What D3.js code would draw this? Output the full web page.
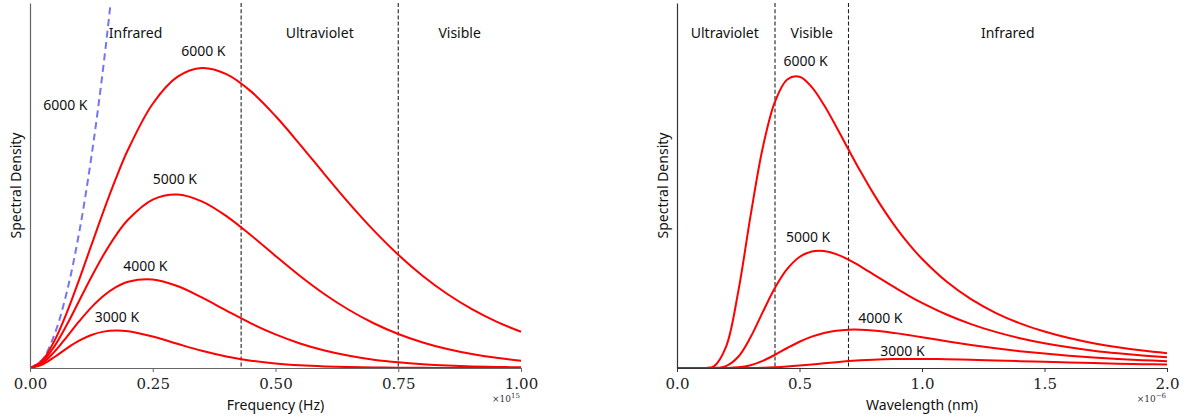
<!DOCTYPE html>
<html>
<head>
<meta charset="utf-8">
<script src="https://cdn.jsdelivr.net/npm/d3@7"></script>
<style>
  html, body { margin: 0; padding: 0; background: #fff; }
  svg { display: block; }
  .sans { font-family: "Noto Sans", "DejaVu Sans", sans-serif; }
  .serif { font-family: "DejaVu Serif", "Liberation Serif", serif; }
</style>
</head>
<body>
<svg id="chart" width="1185" height="418"></svg>
<script>
// ---------- Left panel: spectral density vs frequency (x 1e15 Hz) ----------
const freq = [0, 0.025, 0.05, 0.075, 0.1, 0.125, 0.15, 0.175, 0.2, 0.25, 0.3, 0.35, 0.4, 0.45, 0.5,
              0.55, 0.6, 0.65, 0.7, 0.75, 0.8, 0.85, 0.9, 0.95, 1.0];
const freq6000 = [0, 0.0254, 0.0916, 0.1848, 0.2939, 0.4094, 0.5240, 0.6319, 0.7290, 0.8809, 0.9703, 1.0000,
                  0.9796, 0.9221, 0.8401, 0.7449, 0.6456, 0.5487, 0.4586, 0.3776, 0.3069, 0.2467, 0.1962, 0.1546, 0.1209];
const freq5000 = [0, 0.0207, 0.0731, 0.1441, 0.2235, 0.3032, 0.3775, 0.4422, 0.4950, 0.5615, 0.5784, 0.5557,
                  0.5064, 0.4424, 0.3736, 0.3067, 0.2459, 0.1933, 0.1492, 0.1135, 0.0852, 0.0632, 0.0464, 0.0338, 0.0244];
const freq4000 = [0, 0.0161, 0.0548, 0.1041, 0.1553, 0.2021, 0.2407, 0.2694, 0.2875, 0.2949, 0.2732, 0.2351,
                  0.1913, 0.1489, 0.1119, 0.0816, 0.0581, 0.0405, 0.0278, 0.0188, 0.0125, 0.0082, 0.0054, 0.0035, 0.0022];
const freq3000 = [0, 0.0114, 0.0367, 0.0655, 0.0911, 0.1101, 0.1213, 0.1250, 0.1225, 0.1050, 0.0807, 0.0573,
                  0.0384, 0.0245, 0.0151, 0.0090, 0.0053, 0.0030, 0.0017, 0.0009, 0.0005, 0.0003, 0.0001, 0.0001, 0.0000];
// Rayleigh-Jeans 6000 K (dashed)
const rjFreq = [0, 0.025, 0.05, 0.075, 0.1, 0.125, 0.15, 0.175];
const rj6000 = [0, 0.0281, 0.1126, 0.2533, 0.4503, 0.7036, 1.0132, 1.3790];

const freqTicks = [0, 0.25, 0.5, 0.75, 1.0];
const freqBands = [0.43, 0.75];
const freqBandLabels = [["Infrared", 0.215], ["Ultraviolet", 0.59], ["Visible", 0.875]];
const freqCurveLabels = [["6000 K", 0.353, 1.04], ["5000 K", 0.295, 0.615], ["4000 K", 0.235, 0.322], ["3000 K", 0.177, 0.152]];

// ---------- Right panel: spectral density vs wavelength (x 1e-6 m) ----------
const wave = [0, 0.05, 0.1, 0.15, 0.2, 0.25, 0.3, 0.35, 0.4, 0.45, 0.5, 0.55, 0.6, 0.65, 0.7, 0.75, 0.8,
              0.85, 0.9, 0.95, 1.0, 1.1, 1.2, 1.3, 1.4, 1.5, 1.6, 1.7, 1.8, 1.9, 2.0];
const wave6000 = [0, 0, 0.0000, 0.0056, 0.0725, 0.2615, 0.5200, 0.7542, 0.9122, 0.9878, 0.9973, 0.9619, 0.9005,
                  0.8263, 0.7482, 0.6717, 0.5997, 0.5337, 0.4741, 0.4210, 0.3740, 0.2960, 0.2357, 0.1891, 0.1530,
                  0.1248, 0.1026, 0.0850, 0.0710, 0.0596, 0.0505];
const wave5000 = [0, 0, 0, 0.0002, 0.0066, 0.0384, 0.1051, 0.1914, 0.2746, 0.3392, 0.3802, 0.3992, 0.4008,
                  0.3899, 0.3709, 0.3474, 0.3216, 0.2955, 0.2700, 0.2456, 0.2230, 0.1832, 0.1503, 0.1236, 0.1021,
                  0.0848, 0.0708, 0.0594, 0.0502, 0.0426, 0.0364];
const wave4000 = [0, 0, 0, 0, 0.0002, 0.0022, 0.0096, 0.0245, 0.0454, 0.0685, 0.0900, 0.1075, 0.1201,
                  0.1279, 0.1313, 0.1313, 0.1287, 0.1243, 0.1186, 0.1122, 0.1054, 0.0918, 0.0790, 0.0676, 0.0577,
                  0.0493, 0.0421, 0.0361, 0.0310, 0.0268, 0.0232];
const wave3000 = [0, 0, 0, 0, 0, 0, 0.0002, 0.0008, 0.0023, 0.0048, 0.0082, 0.0121, 0.0163,
                  0.0201, 0.0236, 0.0264, 0.0285, 0.0300, 0.0309, 0.0312, 0.0312, 0.0301, 0.0281, 0.0258, 0.0234,
                  0.0210, 0.0187, 0.0167, 0.0148, 0.0132, 0.0117];

const waveTicks = [0, 0.5, 1.0, 1.5, 2.0];
const waveBands = [0.4, 0.7];
const waveBandLabels = [["Ultraviolet", 0.195], ["Visible", 0.55], ["Infrared", 1.35]];
const waveCurveLabels = [["6000 K", 0.525, 1.035], ["5000 K", 0.535, 0.43], ["4000 K", 0.83, 0.155], ["3000 K", 0.92, 0.042]];

// ---------- drawing ----------
const svg = d3.select("#chart");
const RED = "#ff0000";

function panel(opts) {
  const g = svg.append("g");
  const x = d3.scaleLinear().domain(opts.xDomain).range([opts.x0, opts.x1]);
  const y = d3.scaleLinear().domain(opts.yDomain).range([opts.yBottom, opts.yTop]);

  const clipId = "clip" + opts.id;
  svg.append("clipPath").attr("id", clipId).append("rect")
    .attr("x", opts.x0).attr("y", opts.yTop).attr("width", opts.x1 - opts.x0 + 2).attr("height", opts.yBottom - opts.yTop);

  // band separators
  g.selectAll(".band").data(opts.bands).enter().append("line")
    .attr("x1", d => x(d)).attr("x2", d => x(d))
    .attr("y1", opts.yTop).attr("y2", opts.yBottom)
    .attr("stroke", "#222").attr("stroke-width", 1.1).attr("stroke-dasharray", "4,2.2");

  // band labels
  g.selectAll(".bandLabel").data(opts.bandLabels).enter().append("text")
    .attr("class", "sans")
    .attr("x", d => x(d[1])).attr("y", 38)
    .attr("text-anchor", "middle").attr("font-size", 14).attr("fill", "#111")
    .text(d => d[0]);

  const line = d3.line().x(d => x(d[0])).y(d => y(d[1])).curve(d3.curveCatmullRom.alpha(0.5));
  const plot = g.append("g").attr("clip-path", `url(#${clipId})`);

  if (opts.dashed) {
    plot.append("path")
      .datum(opts.dashed.xs.map((v, i) => [v, opts.dashed.ys[i]]))
      .attr("d", line).attr("fill", "none")
      .attr("stroke", "#7474f6").attr("stroke-width", 2).attr("stroke-dasharray", "7,4.5");
  }
  opts.series.forEach(s => {
    plot.append("path")
      .datum(opts.xs.map((v, i) => [v, s[i]]))
      .attr("d", line).attr("fill", "none")
      .attr("stroke", RED).attr("stroke-width", 2);
  });

  // curve labels
  g.selectAll(".cl").data(opts.curveLabels).enter().append("text")
    .attr("class", "sans")
    .attr("x", d => x(d[1])).attr("y", d => y(d[2]))
    .attr("text-anchor", "middle").attr("font-size", 14).attr("fill", "#111")
    .text(d => d[0]);

  // axes
  const xAxis = d3.axisBottom(x).tickValues(opts.ticks).tickFormat(opts.tickFmt).tickSize(4).tickSizeOuter(0);
  const xa = g.append("g").attr("transform", `translate(0,${opts.yBottom})`).call(xAxis);
  xa.select(".domain").attr("stroke", opts.axisColor).attr("stroke-width", 1.2);
  xa.selectAll(".tick line").attr("stroke", opts.axisColor);
  xa.selectAll(".tick text").attr("class", "serif").attr("font-size", 15).attr("fill", "#222").attr("dy", "0.95em")
    .attr("font-family", "DejaVu Serif, Liberation Serif, serif");

  const yAxis = d3.axisLeft(y).tickValues([]).tickSizeOuter(0);
  const ya = g.append("g").attr("transform", `translate(${opts.x0},0)`).call(yAxis);
  ya.select(".domain").attr("stroke", opts.axisColor).attr("stroke-width", 1.2);

  // axis labels
  g.append("text").attr("class", "sans")
    .attr("x", (opts.x0 + opts.x1) / 2).attr("y", 410)
    .attr("text-anchor", "middle").attr("font-size", 14).attr("fill", "#111")
    .text(opts.xLabel);
  g.append("text").attr("class", "sans")
    .attr("transform", `translate(${opts.x0 - 9},${(opts.yTop + opts.yBottom) / 2}) rotate(-90)`)
    .attr("text-anchor", "middle").attr("font-size", 14).attr("fill", "#111")
    .text("Spectral Density");

  // offset text
  const off = g.append("text").attr("class", "serif")
    .attr("x", opts.x1 - 1).attr("y", 402)
    .attr("text-anchor", "end").attr("font-size", 9).attr("fill", "#333")
    .attr("font-family", "DejaVu Serif, Liberation Serif, serif");
  off.append("tspan").text("×10");
  off.append("tspan").attr("dy", -4).attr("font-size", 7).text(opts.exponent);
}

panel({
  id: "L", x0: 30, x1: 521, yTop: 3, yBottom: 368,
  xDomain: [0, 1.0], yDomain: [0, 1.2167],
  xs: freq, series: [freq6000, freq5000, freq4000, freq3000],
  dashed: { xs: rjFreq, ys: rj6000 },
  bands: freqBands, bandLabels: freqBandLabels, curveLabels: freqCurveLabels.concat([["6000 K", 0.072, 0.86]]),
  ticks: freqTicks, tickFmt: d3.format(".2f"),
  xLabel: "Frequency (Hz)", exponent: "15", axisColor: "#666"
});

panel({
  id: "R", x0: 677, x1: 1167, yTop: 3, yBottom: 368,
  xDomain: [0, 2.0], yDomain: [0, 1.25],
  xs: wave, series: [wave6000, wave5000, wave4000, wave3000],
  bands: waveBands, bandLabels: waveBandLabels, curveLabels: waveCurveLabels,
  ticks: waveTicks, tickFmt: d3.format(".1f"),
  xLabel: "Wavelength (nm)", exponent: "−6", axisColor: "#333"
});
</script>
</body>
</html>
